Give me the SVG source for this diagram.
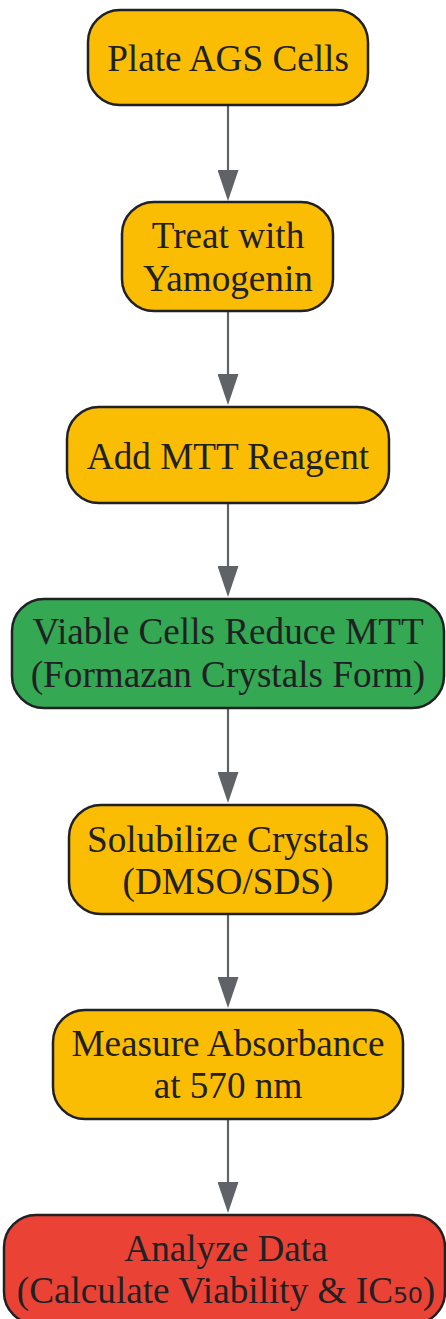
<svg xmlns="http://www.w3.org/2000/svg" width="446" height="1319" viewBox="0 0 446 1319">
<style>
.n rect{stroke:#202124;stroke-width:2.5}
.y rect{fill:#FBBC04}
.g rect{fill:#34A853}
.r rect{fill:#EA4335}
.n text{font-family:"Liberation Serif","Times New Roman",serif;font-size:37.2px;fill:#202124;text-anchor:middle}
.sub{font-family:"DejaVu Sans",sans-serif}
.e line{stroke:#5F6368;stroke-width:2.2;marker-end:url(#ah)}
</style>
<defs>
<marker id="ah" markerUnits="userSpaceOnUse" markerWidth="31" markerHeight="21" viewBox="0 0 31 21" refX="0" refY="10.5" orient="auto">
<polygon points="0,0 31,10.5 0,21" fill="#5F6368"/>
</marker>
</defs>
<g id="connectors" class="e">
<line x1="228" y1="105" x2="228" y2="170"/>
<line x1="228" y1="311" x2="228" y2="374"/>
<line x1="228" y1="503" x2="228" y2="566"/>
<line x1="228" y1="708" x2="228" y2="772"/>
<line x1="228" y1="914" x2="228" y2="977"/>
<line x1="228" y1="1119" x2="228" y2="1182"/>
</g>
<g id="n1" class="n y">
<rect x="88" y="10" width="280" height="95" rx="32"/>
<text x="228" y="71">Plate AGS Cells</text>
</g>
<g id="n2" class="n y">
<rect x="122" y="202" width="211" height="109" rx="32"/>
<text x="228" y="248">Treat with</text>
<text x="228" y="291">Yamogenin</text>
</g>
<g id="n3" class="n y">
<rect x="67" y="407" width="322" height="96" rx="32"/>
<text x="228" y="469">Add MTT Reagent</text>
</g>
<g id="n4" class="n g">
<rect x="12" y="599" width="432" height="109" rx="32"/>
<text x="228" y="644">Viable Cells Reduce MTT</text>
<text x="228" y="687">(Formazan Crystals Form)</text>
</g>
<g id="n5" class="n y">
<rect x="69" y="805" width="318" height="109" rx="32"/>
<text x="228" y="852">Solubilize Crystals</text>
<text x="228" y="894">(DMSO/SDS)</text>
</g>
<g id="n6" class="n y">
<rect x="53" y="1010" width="350" height="109" rx="32"/>
<text x="228" y="1056">Measure Absorbance</text>
<text x="228" y="1098">at 570 nm</text>
</g>
<g id="n7" class="n r">
<rect x="4" y="1215" width="441" height="109" rx="32"/>
<text x="226" y="1261">Analyze Data</text>
<text x="226" y="1303">(Calculate Viability &amp; IC<tspan class="sub">₅₀</tspan>)</text>
</g>
</svg>
